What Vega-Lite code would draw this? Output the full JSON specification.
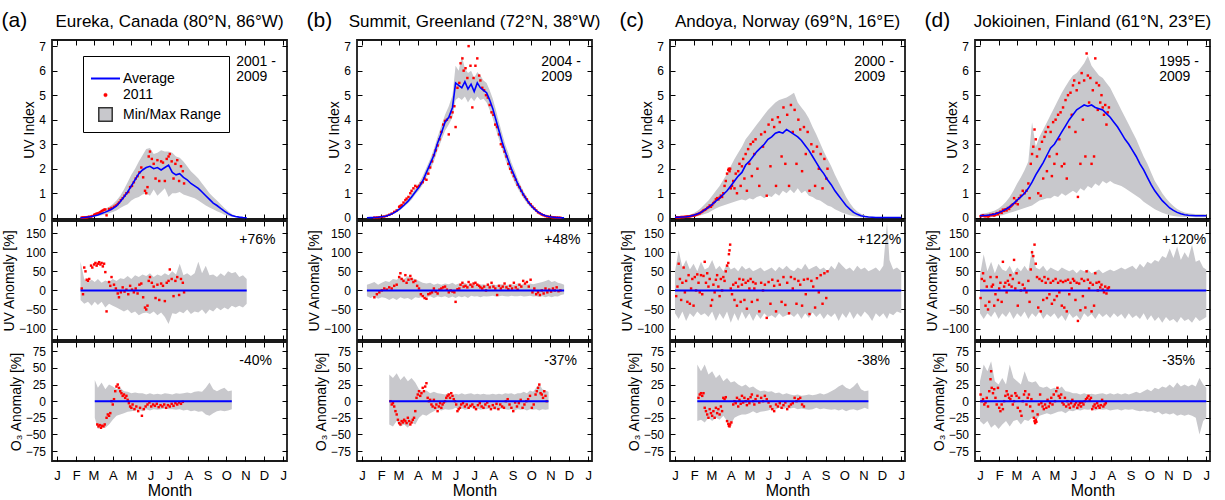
{
"$schema":"https://vega.github.io/schema/vega-lite/v6.json",
"background":"white",
"padding":{"left":1,"top":9,"right":5,"bottom":0},
"datasets":{
"ra":[
{"d":38,"ul":0,"um":0,"uh":0.02,"al":-25,"ah":75},
{"d":44,"ul":0,"um":0.01,"uh":0.04,"al":-35,"ah":30},
{"d":50,"ul":0.02,"um":0.03,"uh":0.06,"al":-30,"ah":20},
{"d":56,"ul":0.03,"um":0.05,"uh":0.1,"al":-40,"ah":28},
{"d":61,"ul":0.05,"um":0.08,"uh":0.13,"al":-30,"ah":22,"ol":-25,"oh":32},
{"d":66,"ul":0.07,"um":0.11,"uh":0.18,"al":-38,"ah":30,"ol":-42,"oh":20},
{"d":72,"ul":0.1,"um":0.17,"uh":0.27,"al":-30,"ah":20,"ol":-38,"oh":28},
{"d":78,"ul":0.14,"um":0.23,"uh":0.36,"al":-45,"ah":26,"ol":-40,"oh":18},
{"d":84,"ul":0.18,"um":0.3,"uh":0.45,"al":-35,"ah":22,"ol":-35,"oh":25},
{"d":90,"ul":0.24,"um":0.38,"uh":0.55,"al":-40,"ah":30,"ol":-28,"oh":22},
{"d":96,"ul":0.3,"um":0.48,"uh":0.7,"al":-45,"ah":25,"ol":-22,"oh":18},
{"d":102,"ul":0.4,"um":0.65,"uh":0.9,"al":-50,"ah":32,"ol":-20,"oh":20},
{"d":108,"ul":0.48,"um":0.85,"uh":1.15,"al":-55,"ah":30,"ol":-18,"oh":15},
{"d":114,"ul":0.55,"um":1.05,"uh":1.45,"al":-50,"ah":38,"ol":-16,"oh":14},
{"d":120,"ul":0.7,"um":1.3,"uh":1.75,"al":-60,"ah":30,"ol":-15,"oh":12},
{"d":126,"ul":0.8,"um":1.55,"uh":2.0,"al":-55,"ah":40,"ol":-14,"oh":13},
{"d":132,"ul":0.85,"um":1.8,"uh":2.3,"al":-65,"ah":35,"ol":-13,"oh":12},
{"d":138,"ul":0.95,"um":1.95,"uh":2.55,"al":-60,"ah":42,"ol":-15,"oh":12},
{"d":144,"ul":1.0,"um":2.05,"uh":2.8,"al":-58,"ah":38,"ol":-12,"oh":10},
{"d":150,"ul":0.9,"um":2.1,"uh":2.85,"al":-62,"ah":45,"ol":-14,"oh":12},
{"d":156,"ul":1.15,"um":2.0,"uh":2.6,"al":-55,"ah":35,"ol":-12,"oh":10},
{"d":162,"ul":0.9,"um":2.05,"uh":2.65,"al":-65,"ah":42,"ol":-13,"oh":11},
{"d":168,"ul":1.05,"um":1.95,"uh":2.75,"al":-58,"ah":38,"ol":-12,"oh":10},
{"d":174,"ul":1.2,"um":2.05,"uh":2.7,"al":-70,"ah":45,"ol":-11,"oh":12},
{"d":180,"ul":0.85,"um":2.15,"uh":2.7,"al":-88,"ah":40,"ol":-12,"oh":11},
{"d":186,"ul":1.0,"um":1.85,"uh":2.65,"al":-60,"ah":50,"ol":-12,"oh":10},
{"d":192,"ul":1.0,"um":1.75,"uh":2.5,"al":-62,"ah":42,"ol":-13,"oh":12},
{"d":198,"ul":1.05,"um":1.8,"uh":2.45,"al":-55,"ah":70,"ol":-12,"oh":11},
{"d":204,"ul":0.95,"um":1.65,"uh":2.3,"al":-60,"ah":40,"ol":-14,"oh":12},
{"d":210,"ul":0.9,"um":1.55,"uh":2.1,"al":-50,"ah":45,"ol":-13,"oh":13},
{"d":216,"ul":0.85,"um":1.4,"uh":1.9,"al":-62,"ah":38,"ol":-15,"oh":12},
{"d":222,"ul":0.8,"um":1.3,"uh":1.75,"al":-55,"ah":45,"ol":-14,"oh":14},
{"d":228,"ul":0.7,"um":1.2,"uh":1.6,"al":-58,"ah":75,"ol":-16,"oh":15},
{"d":234,"ul":0.6,"um":1.05,"uh":1.4,"al":-50,"ah":45,"ol":-15,"oh":14},
{"d":240,"ul":0.5,"um":0.9,"uh":1.2,"al":-62,"ah":65,"ol":-20,"oh":20},
{"d":246,"ul":0.42,"um":0.75,"uh":1.0,"al":-50,"ah":40,"ol":-22,"oh":28},
{"d":252,"ul":0.35,"um":0.6,"uh":0.85,"al":-55,"ah":42,"ol":-18,"oh":18},
{"d":258,"ul":0.27,"um":0.5,"uh":0.7,"al":-45,"ah":35,"ol":-15,"oh":15},
{"d":264,"ul":0.2,"um":0.38,"uh":0.55,"al":-52,"ah":45,"ol":-14,"oh":18},
{"d":270,"ul":0.12,"um":0.27,"uh":0.4,"al":-45,"ah":38,"ol":-15,"oh":20},
{"d":276,"ul":0.07,"um":0.17,"uh":0.27,"al":-50,"ah":50,"ol":-14,"oh":15},
{"d":282,"ul":0.04,"um":0.09,"uh":0.15,"al":-40,"ah":45,"ol":-12,"oh":16},
{"d":288,"ul":0.02,"um":0.05,"uh":0.08,"al":-45,"ah":48},
{"d":294,"ul":0.01,"um":0.025,"uh":0.04,"al":-40,"ah":35},
{"d":300,"ul":0,"um":0.01,"uh":0.02,"al":-45,"ah":40},
{"d":306,"ul":0,"um":0,"uh":0.01,"al":-35,"ah":30}
],
"pa":[
{"d":40,"u":0.01,"a":5},{"d":42,"u":0.01,"a":-10},{"d":44,"u":0.015,"a":60},{"d":46,"u":0.015,"a":50},{"d":48,"u":0.02,"a":28},{"d":50,"u":0.03,"a":25},{"d":52,"u":0.04,"a":30},{"d":55,"u":0.05,"a":65},{"d":57,"u":0.07,"a":60},{"d":60,"u":0.12,"a":68},{"d":62,"u":0.14,"a":72},{"d":64,"u":0.17,"a":65},{"d":66,"u":0.18,"a":70},{"d":68,"u":0.2,"a":74},{"d":70,"u":0.23,"a":68},{"d":72,"u":0.27,"a":72},{"d":74,"u":0.3,"a":63},{"d":76,"u":0.33,"a":70},{"d":78,"u":0.34,"a":48},{"d":80,"u":0.1,"a":-55},{"d":84,"u":0.36,"a":22},{"d":86,"u":0.35,"a":12},{"d":88,"u":0.4,"a":35},{"d":92,"u":0.45,"a":15},{"d":95,"u":0.5,"a":5},{"d":98,"u":0.56,"a":-8},{"d":100,"u":0.62,"a":-18},{"d":103,"u":0.72,"a":-5},{"d":106,"u":0.8,"a":8},{"d":109,"u":0.9,"a":-3},{"d":112,"u":1.0,"a":2},{"d":115,"u":1.05,"a":-10},{"d":118,"u":1.25,"a":12},{"d":121,"u":1.3,"a":2},{"d":124,"u":1.45,"a":-5},{"d":127,"u":1.6,"a":5},{"d":130,"u":1.7,"a":-8},{"d":133,"u":1.85,"a":15},{"d":136,"u":2.05,"a":18},{"d":139,"u":1.65,"a":-18},{"d":142,"u":1.1,"a":-45},{"d":144,"u":1.0,"a":-50},{"d":146,"u":1.25,"a":-40},{"d":148,"u":2.5,"a":25},{"d":150,"u":2.7,"a":35},{"d":153,"u":2.4,"a":20},{"d":156,"u":2.2,"a":10},{"d":159,"u":1.6,"a":-20},{"d":162,"u":2.35,"a":15},{"d":165,"u":1.5,"a":-25},{"d":168,"u":2.3,"a":18},{"d":171,"u":2.25,"a":12},{"d":174,"u":1.5,"a":-28},{"d":177,"u":2.4,"a":20},{"d":180,"u":2.5,"a":25},{"d":182,"u":2.6,"a":55},{"d":185,"u":2.3,"a":30},{"d":188,"u":1.6,"a":-15},{"d":191,"u":2.2,"a":25},{"d":194,"u":2.35,"a":35},{"d":197,"u":1.5,"a":-12},{"d":200,"u":2.1,"a":30},{"d":203,"u":1.9,"a":20},{"d":205,"u":1.4,"a":-5}
],
"oa":[
{"d":65,"o":-35},{"d":67,"o":-38},{"d":69,"o":-36},{"d":71,"o":-40},{"d":73,"o":-37},{"d":75,"o":-38},{"d":77,"o":-35},{"d":80,"o":-25},{"d":82,"o":-20},{"d":84,"o":-22},{"d":86,"o":-18},{"d":88,"o":0},{"d":90,"o":-5},{"d":92,"o":3},{"d":94,"o":15},{"d":96,"o":22},{"d":98,"o":25},{"d":100,"o":20},{"d":102,"o":15},{"d":104,"o":12},{"d":106,"o":8},{"d":108,"o":10},{"d":110,"o":5},{"d":112,"o":8},{"d":114,"o":2},{"d":116,"o":-3},{"d":118,"o":-8},{"d":120,"o":-10},{"d":122,"o":-5},{"d":125,"o":-12},{"d":128,"o":-8},{"d":131,"o":-15},{"d":134,"o":-10},{"d":137,"o":-22},{"d":140,"o":-12},{"d":143,"o":-8},{"d":146,"o":-5},{"d":149,"o":-2},{"d":152,"o":-8},{"d":155,"o":-5},{"d":158,"o":-7},{"d":161,"o":-4},{"d":164,"o":-9},{"d":167,"o":-6},{"d":170,"o":-8},{"d":173,"o":-5},{"d":176,"o":-10},{"d":179,"o":-6},{"d":182,"o":-8},{"d":185,"o":-4},{"d":188,"o":-7},{"d":191,"o":-3},{"d":194,"o":-5},{"d":197,"o":-2},{"d":200,"o":-4},{"d":203,"o":-1}
],
"rb":[
{"d":8,"ul":0,"um":0,"uh":0.01,"al":-15,"ah":15},
{"d":14,"ul":0,"um":0.005,"uh":0.02,"al":-20,"ah":18},
{"d":20,"ul":0.005,"um":0.01,"uh":0.03,"al":-15,"ah":22},
{"d":26,"ul":0.01,"um":0.02,"uh":0.05,"al":-22,"ah":15},
{"d":32,"ul":0.02,"um":0.04,"uh":0.07,"al":-18,"ah":20},
{"d":38,"ul":0.04,"um":0.06,"uh":0.1,"al":-20,"ah":25},
{"d":44,"ul":0.08,"um":0.11,"uh":0.16,"al":-25,"ah":22,"ol":-35,"oh":40},
{"d":50,"ul":0.14,"um":0.18,"uh":0.24,"al":-20,"ah":30,"ol":-38,"oh":35},
{"d":56,"ul":0.22,"um":0.27,"uh":0.34,"al":-25,"ah":28,"ol":-30,"oh":42},
{"d":62,"ul":0.32,"um":0.38,"uh":0.46,"al":-18,"ah":35,"ol":-38,"oh":32},
{"d":68,"ul":0.45,"um":0.52,"uh":0.62,"al":-22,"ah":30,"ol":-35,"oh":38},
{"d":74,"ul":0.58,"um":0.67,"uh":0.78,"al":-20,"ah":38,"ol":-40,"oh":30},
{"d":80,"ul":0.74,"um":0.85,"uh":0.98,"al":-25,"ah":32,"ol":-32,"oh":35},
{"d":86,"ul":0.95,"um":1.05,"uh":1.2,"al":-18,"ah":30,"ol":-35,"oh":28},
{"d":92,"ul":1.12,"um":1.25,"uh":1.42,"al":-20,"ah":25,"ol":-25,"oh":18},
{"d":98,"ul":1.35,"um":1.5,"uh":1.7,"al":-15,"ah":20,"ol":-20,"oh":15},
{"d":104,"ul":1.65,"um":1.85,"uh":2.05,"al":-18,"ah":18,"ol":-22,"oh":16},
{"d":110,"ul":1.95,"um":2.2,"uh":2.4,"al":-15,"ah":20,"ol":-18,"oh":12},
{"d":116,"ul":2.3,"um":2.55,"uh":2.8,"al":-20,"ah":15,"ol":-15,"oh":14},
{"d":122,"ul":2.75,"um":3.05,"uh":3.3,"al":-15,"ah":18,"ol":-12,"oh":12},
{"d":128,"ul":3.15,"um":3.45,"uh":3.75,"al":-18,"ah":15,"ol":-14,"oh":11},
{"d":134,"ul":3.55,"um":3.9,"uh":4.2,"al":-15,"ah":18,"ol":-12,"oh":10},
{"d":140,"ul":3.8,"um":4.1,"uh":4.55,"al":-20,"ah":16,"ol":-13,"oh":12},
{"d":146,"ul":4.1,"um":4.5,"uh":5.0,"al":-16,"ah":20,"ol":-12,"oh":9},
{"d":151,"ul":4.8,"um":5.5,"uh":6.2,"al":-20,"ah":15,"ol":-10,"oh":11},
{"d":156,"ul":4.9,"um":5.4,"uh":6.0,"al":-15,"ah":18,"ol":-12,"oh":10},
{"d":161,"ul":4.8,"um":5.3,"uh":6.6,"al":-18,"ah":16,"ol":-11,"oh":12},
{"d":166,"ul":4.95,"um":5.55,"uh":6.1,"al":-15,"ah":20,"ol":-13,"oh":10},
{"d":171,"ul":4.7,"um":5.25,"uh":5.9,"al":-20,"ah":15,"ol":-12,"oh":11},
{"d":176,"ul":4.9,"um":5.45,"uh":6.0,"al":-14,"ah":18,"ol":-10,"oh":12},
{"d":181,"ul":4.75,"um":5.15,"uh":5.7,"al":-16,"ah":15,"ol":-12,"oh":10},
{"d":186,"ul":4.95,"um":5.5,"uh":5.95,"al":-15,"ah":17,"ol":-11,"oh":11},
{"d":191,"ul":4.8,"um":5.3,"uh":5.8,"al":-18,"ah":15,"ol":-13,"oh":10},
{"d":196,"ul":4.85,"um":5.2,"uh":5.6,"al":-15,"ah":16,"ol":-12,"oh":11},
{"d":201,"ul":4.7,"um":5.1,"uh":5.5,"al":-16,"ah":14,"ol":-12,"oh":10},
{"d":206,"ul":4.4,"um":4.8,"uh":5.2,"al":-15,"ah":15,"ol":-11,"oh":10},
{"d":211,"ul":4.05,"um":4.45,"uh":4.85,"al":-14,"ah":16,"ol":-12,"oh":11},
{"d":216,"ul":3.6,"um":4.0,"uh":4.4,"al":-16,"ah":14,"ol":-13,"oh":10},
{"d":221,"ul":3.2,"um":3.55,"uh":3.9,"al":-15,"ah":15,"ol":-12,"oh":11},
{"d":226,"ul":2.8,"um":3.1,"uh":3.45,"al":-14,"ah":16,"ol":-11,"oh":10},
{"d":231,"ul":2.4,"um":2.7,"uh":3.0,"al":-15,"ah":14,"ol":-12,"oh":12},
{"d":236,"ul":2.05,"um":2.35,"uh":2.65,"al":-16,"ah":15,"ol":-13,"oh":11},
{"d":241,"ul":1.75,"um":2.0,"uh":2.25,"al":-14,"ah":16,"ol":-12,"oh":12},
{"d":246,"ul":1.45,"um":1.7,"uh":1.95,"al":-15,"ah":15,"ol":-14,"oh":10},
{"d":251,"ul":1.2,"um":1.4,"uh":1.6,"al":-15,"ah":18,"ol":-12,"oh":12},
{"d":256,"ul":0.98,"um":1.15,"uh":1.32,"al":-14,"ah":15,"ol":-13,"oh":12},
{"d":261,"ul":0.78,"um":0.92,"uh":1.06,"al":-16,"ah":17,"ol":-12,"oh":14},
{"d":266,"ul":0.6,"um":0.72,"uh":0.84,"al":-15,"ah":15,"ol":-14,"oh":12},
{"d":271,"ul":0.45,"um":0.55,"uh":0.65,"al":-14,"ah":18,"ol":-12,"oh":16},
{"d":276,"ul":0.33,"um":0.41,"uh":0.5,"al":-16,"ah":16,"ol":-13,"oh":14},
{"d":281,"ul":0.23,"um":0.29,"uh":0.36,"al":-15,"ah":18,"ol":-12,"oh":20},
{"d":286,"ul":0.15,"um":0.2,"uh":0.25,"al":-17,"ah":20,"ol":-14,"oh":26},
{"d":291,"ul":0.09,"um":0.13,"uh":0.17,"al":-15,"ah":22,"ol":-12,"oh":18},
{"d":296,"ul":0.05,"um":0.08,"uh":0.11,"al":-18,"ah":25,"ol":-13,"oh":16},
{"d":301,"ul":0.03,"um":0.05,"uh":0.07,"al":-15,"ah":28,"ol":-12,"oh":14},
{"d":306,"ul":0.015,"um":0.03,"uh":0.04,"al":-18,"ah":22},
{"d":311,"ul":0.005,"um":0.015,"uh":0.025,"al":-15,"ah":25},
{"d":316,"ul":0.002,"um":0.008,"uh":0.015,"al":-16,"ah":20},
{"d":321,"ul":0,"um":0.003,"uh":0.008,"al":-12,"ah":18},
{"d":326,"ul":0,"um":0,"uh":0.003,"al":-10,"ah":15}
],
"pb":[
{"d":20,"u":0.01,"a":-18},{"d":24,"u":0.015,"a":-10},{"d":28,"u":0.02,"a":-5},{"d":32,"u":0.04,"a":0},{"d":36,"u":0.05,"a":5},{"d":40,"u":0.08,"a":2},{"d":44,"u":0.12,"a":8},{"d":48,"u":0.17,"a":5},{"d":52,"u":0.24,"a":12},{"d":56,"u":0.3,"a":15},{"d":60,"u":0.45,"a":35},{"d":62,"u":0.48,"a":45},{"d":64,"u":0.52,"a":30},{"d":67,"u":0.62,"a":25},{"d":70,"u":0.72,"a":40},{"d":72,"u":0.78,"a":20},{"d":75,"u":0.85,"a":28},{"d":78,"u":1.0,"a":38},{"d":80,"u":1.1,"a":30},{"d":83,"u":1.2,"a":22},{"d":86,"u":1.3,"a":25},{"d":89,"u":1.25,"a":12},{"d":92,"u":1.3,"a":5},{"d":95,"u":1.4,"a":-10},{"d":98,"u":1.45,"a":-15},{"d":101,"u":1.6,"a":-20},{"d":104,"u":1.55,"a":-22},{"d":107,"u":1.8,"a":-10},{"d":110,"u":2.05,"a":-8},{"d":113,"u":2.3,"a":-5},{"d":116,"u":2.55,"a":5},{"d":119,"u":2.75,"a":-3},{"d":122,"u":2.95,"a":-8},{"d":125,"u":3.2,"a":2},{"d":128,"u":3.5,"a":5},{"d":131,"u":3.8,"a":8},{"d":134,"u":3.95,"a":10},{"d":137,"u":4.0,"a":2},{"d":140,"u":3.4,"a":-5},{"d":143,"u":4.1,"a":0},{"d":146,"u":4.3,"a":-3},{"d":149,"u":4.55,"a":-5},{"d":151,"u":3.7,"a":-30},{"d":154,"u":5.3,"a":3},{"d":157,"u":5.5,"a":5},{"d":159,"u":6.3,"a":15},{"d":162,"u":6.5,"a":20},{"d":164,"u":6.0,"a":10},{"d":167,"u":6.1,"a":12},{"d":170,"u":5.7,"a":8},{"d":172,"u":7.0,"a":22},{"d":175,"u":6.2,"a":15},{"d":178,"u":4.5,"a":10},{"d":180,"u":5.7,"a":18},{"d":183,"u":6.2,"a":20},{"d":186,"u":6.5,"a":15},{"d":189,"u":5.8,"a":12},{"d":191,"u":5.6,"a":8},{"d":194,"u":5.3,"a":5},{"d":197,"u":5.2,"a":10},{"d":200,"u":5.0,"a":0},{"d":203,"u":4.9,"a":15},{"d":206,"u":4.6,"a":8},{"d":209,"u":4.3,"a":20},{"d":212,"u":4.2,"a":10},{"d":215,"u":3.8,"a":5},{"d":218,"u":3.7,"a":-12},{"d":221,"u":3.4,"a":12},{"d":224,"u":3.0,"a":5},{"d":227,"u":2.9,"a":10},{"d":230,"u":2.7,"a":18},{"d":233,"u":2.5,"a":8},{"d":236,"u":2.2,"a":3},{"d":239,"u":2.0,"a":12},{"d":242,"u":1.85,"a":5},{"d":245,"u":1.7,"a":20},{"d":248,"u":1.55,"a":8},{"d":251,"u":1.35,"a":2},{"d":254,"u":1.25,"a":15},{"d":257,"u":1.1,"a":10},{"d":260,"u":0.95,"a":25},{"d":263,"u":0.85,"a":18},{"d":266,"u":0.75,"a":22},{"d":269,"u":0.62,"a":10},{"d":272,"u":0.55,"a":28},{"d":275,"u":0.45,"a":-5},{"d":278,"u":0.38,"a":5},{"d":281,"u":0.3,"a":-10},{"d":284,"u":0.22,"a":-5},{"d":287,"u":0.18,"a":-12},{"d":290,"u":0.13,"a":0},{"d":293,"u":0.1,"a":-8},{"d":296,"u":0.07,"a":5},{"d":299,"u":0.05,"a":-5},{"d":302,"u":0.04,"a":2},{"d":305,"u":0.03,"a":-3},{"d":308,"u":0.02,"a":5},{"d":311,"u":0.015,"a":0},{"d":314,"u":0.01,"a":8},{"d":317,"u":0.005,"a":-2},{"d":320,"u":0.003,"a":0}
],
"ob":[
{"d":46,"o":0},{"d":48,"o":-5},{"d":50,"o":-3},{"d":52,"o":-8},{"d":54,"o":-15},{"d":56,"o":-20},{"d":58,"o":-28},{"d":60,"o":-33},{"d":62,"o":-35},{"d":64,"o":-30},{"d":66,"o":-32},{"d":68,"o":-28},{"d":70,"o":-30},{"d":72,"o":-33},{"d":74,"o":-25},{"d":76,"o":-30},{"d":78,"o":-35},{"d":80,"o":-32},{"d":82,"o":-28},{"d":84,"o":-25},{"d":86,"o":-15},{"d":88,"o":5},{"d":90,"o":10},{"d":92,"o":15},{"d":94,"o":8},{"d":96,"o":12},{"d":98,"o":20},{"d":100,"o":15},{"d":102,"o":22},{"d":104,"o":27},{"d":106,"o":5},{"d":108,"o":0},{"d":110,"o":2},{"d":112,"o":-5},{"d":114,"o":-8},{"d":116,"o":2},{"d":118,"o":-10},{"d":120,"o":-5},{"d":122,"o":-15},{"d":124,"o":-8},{"d":126,"o":-3},{"d":128,"o":-10},{"d":130,"o":-5},{"d":132,"o":-2},{"d":134,"o":0},{"d":136,"o":5},{"d":138,"o":8},{"d":140,"o":10},{"d":142,"o":5},{"d":144,"o":12},{"d":146,"o":8},{"d":148,"o":3},{"d":150,"o":0},{"d":152,"o":-5},{"d":154,"o":-15},{"d":156,"o":-12},{"d":158,"o":-10},{"d":160,"o":-5},{"d":163,"o":-3},{"d":166,"o":-8},{"d":169,"o":-5},{"d":172,"o":-10},{"d":175,"o":-7},{"d":178,"o":-5},{"d":181,"o":-9},{"d":184,"o":-12},{"d":187,"o":-6},{"d":190,"o":-3},{"d":193,"o":-8},{"d":196,"o":-10},{"d":199,"o":-5},{"d":202,"o":-2},{"d":205,"o":-8},{"d":208,"o":-12},{"d":211,"o":-6},{"d":214,"o":-10},{"d":217,"o":-4},{"d":220,"o":-12},{"d":223,"o":-5},{"d":226,"o":-8},{"d":229,"o":-10},{"d":232,"o":0},{"d":235,"o":3},{"d":238,"o":-5},{"d":241,"o":-10},{"d":244,"o":-15},{"d":247,"o":-2},{"d":250,"o":-8},{"d":253,"o":-3},{"d":256,"o":2},{"d":259,"o":-10},{"d":262,"o":-5},{"d":265,"o":0},{"d":268,"o":3},{"d":271,"o":8},{"d":274,"o":-10},{"d":277,"o":-5},{"d":280,"o":10},{"d":282,"o":15},{"d":284,"o":20},{"d":286,"o":25},{"d":288,"o":12},{"d":290,"o":10},{"d":292,"o":5},{"d":294,"o":15},{"d":296,"o":8},{"d":298,"o":0}
],
"rc":[
{"d":0,"ul":0,"um":0.02,"uh":0.04,"al":-60,"ah":50},
{"d":6,"ul":0,"um":0.02,"uh":0.05,"al":-75,"ah":105},
{"d":12,"ul":0.01,"um":0.03,"uh":0.06,"al":-55,"ah":60},
{"d":18,"ul":0.01,"um":0.04,"uh":0.08,"al":-80,"ah":80},
{"d":24,"ul":0.02,"um":0.06,"uh":0.12,"al":-60,"ah":55},
{"d":30,"ul":0.04,"um":0.1,"uh":0.18,"al":-70,"ah":70},
{"d":36,"ul":0.06,"um":0.15,"uh":0.28,"al":-55,"ah":50,"ol":-30,"oh":55},
{"d":42,"ul":0.1,"um":0.22,"uh":0.4,"al":-65,"ah":75,"ol":-28,"oh":45},
{"d":48,"ul":0.15,"um":0.32,"uh":0.55,"al":-60,"ah":55,"ol":-32,"oh":55},
{"d":54,"ul":0.2,"um":0.42,"uh":0.7,"al":-70,"ah":60,"ol":-25,"oh":40},
{"d":60,"ul":0.3,"um":0.55,"uh":0.9,"al":-55,"ah":80,"ol":-30,"oh":45},
{"d":66,"ul":0.38,"um":0.68,"uh":1.1,"al":-80,"ah":55,"ol":-25,"oh":35},
{"d":72,"ul":0.45,"um":0.8,"uh":1.3,"al":-60,"ah":65,"ol":-28,"oh":40},
{"d":78,"ul":0.5,"um":0.95,"uh":1.55,"al":-75,"ah":50,"ol":-22,"oh":30},
{"d":84,"ul":0.55,"um":1.1,"uh":1.8,"al":-55,"ah":70,"ol":-30,"oh":35},
{"d":90,"ul":0.6,"um":1.3,"uh":2.1,"al":-85,"ah":55,"ol":-35,"oh":28},
{"d":96,"ul":0.65,"um":1.5,"uh":2.4,"al":-60,"ah":60,"ol":-25,"oh":30},
{"d":102,"ul":0.7,"um":1.7,"uh":2.65,"al":-80,"ah":50,"ol":-22,"oh":25},
{"d":108,"ul":0.75,"um":1.85,"uh":2.9,"al":-55,"ah":65,"ol":-20,"oh":22},
{"d":114,"ul":0.7,"um":2.15,"uh":3.2,"al":-75,"ah":55,"ol":-20,"oh":25},
{"d":120,"ul":0.8,"um":2.3,"uh":3.4,"al":-60,"ah":60,"ol":-18,"oh":20},
{"d":126,"ul":0.75,"um":2.5,"uh":3.6,"al":-80,"ah":50,"ol":-15,"oh":22},
{"d":132,"ul":0.85,"um":2.7,"uh":3.8,"al":-62,"ah":55,"ol":-18,"oh":18},
{"d":138,"ul":0.9,"um":2.85,"uh":4.0,"al":-75,"ah":60,"ol":-16,"oh":15},
{"d":144,"ul":0.8,"um":3.0,"uh":4.2,"al":-60,"ah":50,"ol":-15,"oh":16},
{"d":150,"ul":0.9,"um":3.2,"uh":4.4,"al":-70,"ah":55,"ol":-14,"oh":14},
{"d":156,"ul":0.85,"um":3.3,"uh":4.55,"al":-65,"ah":60,"ol":-12,"oh":15},
{"d":162,"ul":1.0,"um":3.45,"uh":4.7,"al":-72,"ah":50,"ol":-13,"oh":12},
{"d":168,"ul":0.9,"um":3.5,"uh":4.8,"al":-60,"ah":62,"ol":-10,"oh":13},
{"d":174,"ul":1.1,"um":3.45,"uh":4.85,"al":-70,"ah":55,"ol":-12,"oh":10},
{"d":180,"ul":1.0,"um":3.6,"uh":4.9,"al":-65,"ah":65,"ol":-10,"oh":12},
{"d":186,"ul":1.15,"um":3.5,"uh":5.0,"al":-62,"ah":55,"ol":-11,"oh":10},
{"d":192,"ul":1.0,"um":3.4,"uh":5.1,"al":-70,"ah":50,"ol":-10,"oh":9},
{"d":198,"ul":1.2,"um":3.3,"uh":4.7,"al":-60,"ah":60,"ol":-12,"oh":10},
{"d":204,"ul":1.0,"um":3.15,"uh":4.5,"al":-75,"ah":55,"ol":-11,"oh":8},
{"d":210,"ul":1.1,"um":2.95,"uh":4.3,"al":-60,"ah":70,"ol":-12,"oh":9},
{"d":216,"ul":0.9,"um":2.75,"uh":4.05,"al":-72,"ah":55,"ol":-13,"oh":10},
{"d":222,"ul":0.85,"um":2.5,"uh":3.7,"al":-58,"ah":60,"ol":-12,"oh":9},
{"d":228,"ul":0.75,"um":2.25,"uh":3.4,"al":-70,"ah":65,"ol":-10,"oh":10},
{"d":234,"ul":0.7,"um":2.0,"uh":3.05,"al":-60,"ah":55,"ol":-12,"oh":12},
{"d":240,"ul":0.6,"um":1.8,"uh":2.7,"al":-75,"ah":60,"ol":-11,"oh":10},
{"d":246,"ul":0.5,"um":1.55,"uh":2.4,"al":-62,"ah":50,"ol":-12,"oh":12},
{"d":252,"ul":0.45,"um":1.35,"uh":2.1,"al":-70,"ah":65,"ol":-13,"oh":15},
{"d":258,"ul":0.35,"um":1.1,"uh":1.75,"al":-60,"ah":55,"ol":-12,"oh":18},
{"d":264,"ul":0.28,"um":0.9,"uh":1.45,"al":-80,"ah":75,"ol":-14,"oh":22},
{"d":270,"ul":0.2,"um":0.7,"uh":1.15,"al":-60,"ah":65,"ol":-12,"oh":25},
{"d":276,"ul":0.15,"um":0.5,"uh":0.85,"al":-72,"ah":55,"ol":-15,"oh":20},
{"d":282,"ul":0.1,"um":0.35,"uh":0.6,"al":-55,"ah":60,"ol":-13,"oh":18},
{"d":288,"ul":0.06,"um":0.22,"uh":0.4,"al":-75,"ah":50,"ol":-12,"oh":22},
{"d":294,"ul":0.04,"um":0.14,"uh":0.26,"al":-60,"ah":65,"ol":-14,"oh":28},
{"d":300,"ul":0.02,"um":0.08,"uh":0.16,"al":-70,"ah":55,"ol":-12,"oh":18},
{"d":306,"ul":0.01,"um":0.05,"uh":0.1,"al":-55,"ah":60,"ol":-10,"oh":15},
{"d":312,"ul":0,"um":0.03,"uh":0.06,"al":-65,"ah":50,"ol":-12,"oh":16},
{"d":318,"ul":0,"um":0.02,"uh":0.04,"al":-80,"ah":55},
{"d":324,"ul":0,"um":0.01,"uh":0.03,"al":-60,"ah":60},
{"d":330,"ul":0,"um":0.01,"uh":0.02,"al":-70,"ah":50},
{"d":336,"ul":0,"um":0.01,"uh":0.02,"al":-60,"ah":65},
{"d":342,"ul":0,"um":0.01,"uh":0.02,"al":-75,"ah":180},
{"d":346,"ul":0,"um":0.01,"uh":0.02,"al":-60,"ah":80},
{"d":352,"ul":0,"um":0.01,"uh":0.02,"al":-65,"ah":55},
{"d":358,"ul":0,"um":0.01,"uh":0.02,"al":-55,"ah":60},
{"d":365,"ul":0,"um":0.01,"uh":0.02,"al":-60,"ah":50}
],
"pc":[
{"d":2,"u":0.02,"a":-15},{"d":4,"u":0.02,"a":10},{"d":6,"u":0.02,"a":70},{"d":8,"u":0.02,"a":30},{"d":10,"u":0.03,"a":-25},{"d":12,"u":0.03,"a":20},{"d":14,"u":0.03,"a":60},{"d":16,"u":0.04,"a":-5},{"d":18,"u":0.04,"a":25},{"d":20,"u":0.05,"a":-30},{"d":22,"u":0.05,"a":40},{"d":24,"u":0.06,"a":-35},{"d":26,"u":0.07,"a":5},{"d":28,"u":0.08,"a":30},{"d":30,"u":0.09,"a":-40},{"d":32,"u":0.1,"a":35},{"d":34,"u":0.12,"a":0},{"d":36,"u":0.14,"a":42},{"d":38,"u":0.16,"a":20},{"d":40,"u":0.18,"a":-5},{"d":42,"u":0.22,"a":40},{"d":44,"u":0.25,"a":-10},{"d":46,"u":0.3,"a":38},{"d":48,"u":0.32,"a":75},{"d":50,"u":0.35,"a":20},{"d":52,"u":0.4,"a":45},{"d":54,"u":0.43,"a":10},{"d":56,"u":0.5,"a":30},{"d":58,"u":0.45,"a":-40},{"d":60,"u":0.52,"a":-25},{"d":62,"u":0.6,"a":15},{"d":64,"u":0.65,"a":-5},{"d":66,"u":0.75,"a":28},{"d":68,"u":0.8,"a":40},{"d":70,"u":0.75,"a":10},{"d":72,"u":0.82,"a":-15},{"d":74,"u":0.9,"a":30},{"d":76,"u":0.85,"a":0},{"d":78,"u":1.0,"a":35},{"d":80,"u":1.3,"a":25},{"d":82,"u":1.5,"a":50},{"d":84,"u":1.8,"a":65},{"d":86,"u":1.95,"a":72},{"d":87,"u":2.0,"a":95},{"d":88,"u":1.9,"a":105},{"d":89,"u":2.0,"a":120},{"d":90,"u":1.2,"a":5},{"d":92,"u":1.3,"a":-10},{"d":94,"u":1.5,"a":15},{"d":96,"u":1.2,"a":-25},{"d":98,"u":1.8,"a":20},{"d":100,"u":1.0,"a":-40},{"d":102,"u":1.9,"a":10},{"d":104,"u":2.2,"a":30},{"d":106,"u":1.3,"a":-30},{"d":108,"u":2.1,"a":15},{"d":110,"u":2.4,"a":28},{"d":112,"u":1.6,"a":-25},{"d":114,"u":2.6,"a":20},{"d":116,"u":1.1,"a":-48},{"d":118,"u":2.8,"a":25},{"d":120,"u":2.2,"a":5},{"d":122,"u":3.0,"a":30},{"d":124,"u":1.7,"a":-30},{"d":126,"u":3.1,"a":22},{"d":128,"u":2.6,"a":5},{"d":130,"u":3.2,"a":18},{"d":133,"u":2.0,"a":-25},{"d":136,"u":1.3,"a":-55},{"d":139,"u":3.4,"a":20},{"d":142,"u":2.9,"a":0},{"d":145,"u":3.5,"a":15},{"d":148,"u":0.9,"a":-72},{"d":151,"u":3.8,"a":22},{"d":154,"u":2.1,"a":-35},{"d":157,"u":4.0,"a":28},{"d":160,"u":3.7,"a":12},{"d":163,"u":1.3,"a":-55},{"d":166,"u":4.1,"a":25},{"d":169,"u":3.9,"a":15},{"d":172,"u":2.5,"a":-30},{"d":175,"u":4.5,"a":35},{"d":178,"u":2.2,"a":-38},{"d":181,"u":4.2,"a":20},{"d":184,"u":1.3,"a":-60},{"d":187,"u":4.6,"a":35},{"d":190,"u":3.5,"a":5},{"d":193,"u":4.4,"a":30},{"d":196,"u":2.2,"a":-35},{"d":199,"u":4.0,"a":25},{"d":202,"u":3.6,"a":15},{"d":205,"u":1.9,"a":-40},{"d":208,"u":3.7,"a":28},{"d":211,"u":2.6,"a":-10},{"d":214,"u":3.5,"a":30},{"d":217,"u":1.1,"a":-62},{"d":220,"u":3.0,"a":25},{"d":223,"u":2.7,"a":10},{"d":226,"u":1.3,"a":-45},{"d":229,"u":2.9,"a":32},{"d":232,"u":2.0,"a":-5},{"d":235,"u":2.6,"a":40},{"d":238,"u":1.2,"a":-35},{"d":241,"u":2.4,"a":45},{"d":244,"u":1.6,"a":-20},{"d":246,"u":2.0,"a":50}
],
"oc":[
{"d":38,"o":5},{"d":40,"o":10},{"d":42,"o":12},{"d":44,"o":8},{"d":46,"o":12},{"d":48,"o":-10},{"d":50,"o":-15},{"d":52,"o":-20},{"d":54,"o":-25},{"d":56,"o":-12},{"d":58,"o":-18},{"d":60,"o":-22},{"d":62,"o":-15},{"d":64,"o":-25},{"d":66,"o":-10},{"d":68,"o":-18},{"d":70,"o":-12},{"d":72,"o":-20},{"d":74,"o":-8},{"d":76,"o":-15},{"d":78,"o":5},{"d":80,"o":3},{"d":82,"o":6},{"d":84,"o":-30},{"d":86,"o":-34},{"d":87,"o":-37},{"d":88,"o":-38},{"d":89,"o":-35},{"d":91,"o":-32},{"d":94,"o":-5},{"d":96,"o":0},{"d":98,"o":-3},{"d":100,"o":5},{"d":102,"o":-8},{"d":104,"o":2},{"d":106,"o":-4},{"d":108,"o":8},{"d":110,"o":-2},{"d":112,"o":5},{"d":114,"o":0},{"d":116,"o":-6},{"d":118,"o":3},{"d":120,"o":-3},{"d":122,"o":6},{"d":124,"o":10},{"d":126,"o":0},{"d":128,"o":-5},{"d":130,"o":3},{"d":133,"o":8},{"d":136,"o":-2},{"d":139,"o":5},{"d":142,"o":0},{"d":145,"o":8},{"d":148,"o":3},{"d":151,"o":-2},{"d":154,"o":-8},{"d":157,"o":-12},{"d":160,"o":-15},{"d":163,"o":-5},{"d":166,"o":-8},{"d":169,"o":-3},{"d":172,"o":-10},{"d":175,"o":-6},{"d":178,"o":-2},{"d":181,"o":-12},{"d":184,"o":-8},{"d":187,"o":-5},{"d":190,"o":-3},{"d":193,"o":5},{"d":196,"o":0},{"d":199,"o":3},{"d":202,"o":5},{"d":205,"o":-5},{"d":208,"o":-8}
],
"rd":[
{"d":0,"ul":0.02,"um":0.08,"uh":0.15,"al":-60,"ah":40,"ol":-30,"oh":30},
{"d":6,"ul":0.03,"um":0.09,"uh":0.17,"al":-75,"ah":95,"ol":-35,"oh":55},
{"d":12,"ul":0.03,"um":0.1,"uh":0.2,"al":-60,"ah":50,"ol":-30,"oh":45},
{"d":18,"ul":0.04,"um":0.12,"uh":0.25,"al":-70,"ah":75,"ol":-40,"oh":60},
{"d":24,"ul":0.05,"um":0.15,"uh":0.3,"al":-55,"ah":45,"ol":-35,"oh":30},
{"d":30,"ul":0.08,"um":0.2,"uh":0.38,"al":-75,"ah":70,"ol":-42,"oh":25},
{"d":36,"ul":0.1,"um":0.27,"uh":0.5,"al":-60,"ah":55,"ol":-35,"oh":35},
{"d":42,"ul":0.15,"um":0.35,"uh":0.65,"al":-70,"ah":50,"ol":-30,"oh":25},
{"d":48,"ul":0.2,"um":0.45,"uh":0.85,"al":-55,"ah":65,"ol":-38,"oh":55},
{"d":54,"ul":0.25,"um":0.58,"uh":1.1,"al":-75,"ah":45,"ol":-30,"oh":35},
{"d":60,"ul":0.3,"um":0.72,"uh":1.4,"al":-60,"ah":60,"ol":-28,"oh":30},
{"d":66,"ul":0.35,"um":0.85,"uh":1.65,"al":-70,"ah":50,"ol":-35,"oh":25},
{"d":72,"ul":0.4,"um":1.0,"uh":1.95,"al":-55,"ah":65,"ol":-28,"oh":45},
{"d":78,"ul":0.45,"um":1.2,"uh":2.3,"al":-75,"ah":50,"ol":-30,"oh":30},
{"d":84,"ul":0.5,"um":1.45,"uh":3.9,"al":-60,"ah":110,"ol":-25,"oh":28},
{"d":90,"ul":0.6,"um":1.75,"uh":2.9,"al":-70,"ah":60,"ol":-30,"oh":30},
{"d":96,"ul":0.7,"um":2.0,"uh":3.3,"al":-55,"ah":55,"ol":-22,"oh":22},
{"d":102,"ul":0.75,"um":2.25,"uh":3.6,"al":-75,"ah":65,"ol":-20,"oh":20},
{"d":108,"ul":0.8,"um":2.55,"uh":3.9,"al":-62,"ah":50,"ol":-18,"oh":22},
{"d":114,"ul":0.8,"um":2.85,"uh":4.2,"al":-70,"ah":60,"ol":-20,"oh":18},
{"d":120,"ul":0.9,"um":3.0,"uh":4.5,"al":-60,"ah":55,"ol":-18,"oh":20},
{"d":126,"ul":0.85,"um":3.25,"uh":4.8,"al":-75,"ah":50,"ol":-16,"oh":18},
{"d":132,"ul":1.0,"um":3.5,"uh":5.1,"al":-65,"ah":60,"ol":-15,"oh":22},
{"d":138,"ul":0.9,"um":3.75,"uh":5.35,"al":-80,"ah":55,"ol":-18,"oh":15},
{"d":144,"ul":1.0,"um":4.0,"uh":5.6,"al":-60,"ah":50,"ol":-14,"oh":14},
{"d":150,"ul":1.1,"um":4.2,"uh":5.8,"al":-72,"ah":55,"ol":-15,"oh":12},
{"d":156,"ul":1.0,"um":4.4,"uh":5.9,"al":-65,"ah":45,"ol":-13,"oh":12},
{"d":162,"ul":1.2,"um":4.5,"uh":6.1,"al":-78,"ah":55,"ol":-14,"oh":10},
{"d":168,"ul":1.1,"um":4.6,"uh":6.3,"al":-60,"ah":50,"ol":-12,"oh":12},
{"d":174,"ul":1.3,"um":4.55,"uh":6.6,"al":-70,"ah":55,"ol":-13,"oh":10},
{"d":180,"ul":1.2,"um":4.6,"uh":6.2,"al":-62,"ah":45,"ol":-12,"oh":11},
{"d":186,"ul":1.4,"um":4.5,"uh":6.0,"al":-75,"ah":50,"ol":-14,"oh":10},
{"d":192,"ul":1.3,"um":4.45,"uh":5.8,"al":-60,"ah":55,"ol":-12,"oh":11},
{"d":198,"ul":1.5,"um":4.4,"uh":5.7,"al":-70,"ah":45,"ol":-13,"oh":12},
{"d":204,"ul":1.4,"um":4.25,"uh":5.5,"al":-62,"ah":50,"ol":-12,"oh":10},
{"d":210,"ul":1.5,"um":4.1,"uh":5.3,"al":-72,"ah":55,"ol":-14,"oh":12},
{"d":216,"ul":1.4,"um":3.9,"uh":5.0,"al":-60,"ah":50,"ol":-13,"oh":10},
{"d":222,"ul":1.35,"um":3.7,"uh":4.7,"al":-70,"ah":55,"ol":-12,"oh":12},
{"d":228,"ul":1.3,"um":3.45,"uh":4.4,"al":-62,"ah":60,"ol":-14,"oh":10},
{"d":234,"ul":1.2,"um":3.2,"uh":4.1,"al":-75,"ah":55,"ol":-12,"oh":12},
{"d":240,"ul":1.1,"um":3.0,"uh":3.8,"al":-60,"ah":60,"ol":-13,"oh":10},
{"d":246,"ul":1.0,"um":2.75,"uh":3.5,"al":-72,"ah":65,"ol":-12,"oh":12},
{"d":252,"ul":0.9,"um":2.5,"uh":3.2,"al":-65,"ah":55,"ol":-14,"oh":14},
{"d":258,"ul":0.8,"um":2.2,"uh":2.85,"al":-75,"ah":70,"ol":-15,"oh":12},
{"d":264,"ul":0.65,"um":1.95,"uh":2.5,"al":-60,"ah":60,"ol":-14,"oh":15},
{"d":270,"ul":0.55,"um":1.65,"uh":2.2,"al":-78,"ah":75,"ol":-16,"oh":18},
{"d":276,"ul":0.45,"um":1.35,"uh":1.85,"al":-65,"ah":70,"ol":-15,"oh":15},
{"d":282,"ul":0.35,"um":1.1,"uh":1.5,"al":-80,"ah":80,"ol":-18,"oh":20},
{"d":288,"ul":0.28,"um":0.9,"uh":1.25,"al":-70,"ah":75,"ol":-16,"oh":18},
{"d":294,"ul":0.2,"um":0.7,"uh":1.0,"al":-85,"ah":90,"ol":-20,"oh":22},
{"d":300,"ul":0.15,"um":0.55,"uh":0.8,"al":-70,"ah":85,"ol":-18,"oh":20},
{"d":306,"ul":0.1,"um":0.4,"uh":0.62,"al":-80,"ah":110,"ol":-20,"oh":25},
{"d":312,"ul":0.07,"um":0.3,"uh":0.48,"al":-75,"ah":85,"ol":-18,"oh":20},
{"d":318,"ul":0.05,"um":0.22,"uh":0.36,"al":-85,"ah":115,"ol":-22,"oh":28},
{"d":324,"ul":0.04,"um":0.16,"uh":0.28,"al":-70,"ah":80,"ol":-20,"oh":22},
{"d":330,"ul":0.03,"um":0.12,"uh":0.22,"al":-80,"ah":100,"ol":-22,"oh":25},
{"d":336,"ul":0.03,"um":0.1,"uh":0.18,"al":-75,"ah":85,"ol":-20,"oh":22},
{"d":342,"ul":0.03,"um":0.09,"uh":0.16,"al":-85,"ah":120,"ol":-22,"oh":25},
{"d":348,"ul":0.02,"um":0.08,"uh":0.15,"al":-70,"ah":75,"ol":-25,"oh":22},
{"d":354,"ul":0.02,"um":0.08,"uh":0.15,"al":-80,"ah":80,"ol":-50,"oh":35},
{"d":360,"ul":0.02,"um":0.08,"uh":0.15,"al":-75,"ah":60,"ol":-30,"oh":25},
{"d":365,"ul":0.02,"um":0.08,"uh":0.14,"al":-70,"ah":55,"ol":-25,"oh":20}
],
"pd":[
{"d":1,"u":0.06,"a":-20},{"d":3,"u":0.08,"a":30},{"d":5,"u":0.1,"a":45},{"d":7,"u":0.07,"a":25},{"d":9,"u":0.06,"a":-40},{"d":11,"u":0.08,"a":10},{"d":13,"u":0.05,"a":-50},{"d":15,"u":0.07,"a":-30},{"d":17,"u":0.12,"a":35},{"d":19,"u":0.1,"a":10},{"d":21,"u":0.14,"a":15},{"d":23,"u":0.09,"a":-40},{"d":25,"u":0.12,"a":-10},{"d":27,"u":0.19,"a":35},{"d":29,"u":0.14,"a":-25},{"d":31,"u":0.2,"a":5},{"d":33,"u":0.25,"a":20},{"d":35,"u":0.2,"a":-30},{"d":37,"u":0.33,"a":75},{"d":39,"u":0.28,"a":10},{"d":41,"u":0.35,"a":20},{"d":43,"u":0.3,"a":-5},{"d":45,"u":0.4,"a":25},{"d":47,"u":0.36,"a":15},{"d":49,"u":0.45,"a":40},{"d":51,"u":0.5,"a":10},{"d":53,"u":0.55,"a":30},{"d":55,"u":0.8,"a":80},{"d":57,"u":0.6,"a":5},{"d":59,"u":0.7,"a":45},{"d":61,"u":0.55,"a":-40},{"d":63,"u":0.8,"a":20},{"d":66,"u":0.9,"a":0},{"d":69,"u":1.1,"a":15},{"d":72,"u":1.0,"a":5},{"d":75,"u":1.1,"a":-5},{"d":78,"u":1.4,"a":25},{"d":80,"u":0.8,"a":-30},{"d":82,"u":2.2,"a":55},{"d":84,"u":2.6,"a":100},{"d":86,"u":2.9,"a":90},{"d":88,"u":3.6,"a":120},{"d":90,"u":3.2,"a":70},{"d":92,"u":2.5,"a":35},{"d":94,"u":1.0,"a":-45},{"d":96,"u":2.8,"a":30},{"d":98,"u":0.9,"a":-55},{"d":100,"u":3.1,"a":25},{"d":102,"u":1.6,"a":-25},{"d":104,"u":3.3,"a":35},{"d":106,"u":3.5,"a":20},{"d":108,"u":1.9,"a":-20},{"d":110,"u":3.7,"a":30},{"d":112,"u":2.5,"a":-10},{"d":114,"u":3.5,"a":20},{"d":116,"u":1.7,"a":-35},{"d":118,"u":3.9,"a":25},{"d":120,"u":2.2,"a":-25},{"d":122,"u":4.0,"a":30},{"d":124,"u":2.6,"a":-15},{"d":126,"u":4.2,"a":20},{"d":128,"u":3.2,"a":-5},{"d":130,"u":4.3,"a":25},{"d":132,"u":2.1,"a":-40},{"d":134,"u":4.5,"a":22},{"d":136,"u":2.2,"a":-45},{"d":138,"u":4.8,"a":25},{"d":140,"u":1.6,"a":-55},{"d":142,"u":5.0,"a":28},{"d":144,"u":3.7,"a":-10},{"d":146,"u":5.1,"a":20},{"d":148,"u":4.2,"a":5},{"d":150,"u":5.4,"a":30},{"d":152,"u":5.6,"a":25},{"d":154,"u":3.5,"a":-25},{"d":156,"u":5.2,"a":20},{"d":158,"u":0.85,"a":-80},{"d":160,"u":5.5,"a":18},{"d":162,"u":2.2,"a":-52},{"d":164,"u":5.9,"a":30},{"d":166,"u":4.0,"a":-15},{"d":168,"u":5.6,"a":25},{"d":170,"u":2.5,"a":-45},{"d":172,"u":6.7,"a":50},{"d":174,"u":5.8,"a":28},{"d":176,"u":4.7,"a":5},{"d":178,"u":5.7,"a":20},{"d":180,"u":2.2,"a":-55},{"d":182,"u":5.2,"a":15},{"d":184,"u":2.5,"a":-40},{"d":186,"u":6.5,"a":45},{"d":188,"u":5.5,"a":20},{"d":190,"u":4.4,"a":0},{"d":192,"u":5.4,"a":22},{"d":194,"u":4.7,"a":8},{"d":196,"u":5.0,"a":15},{"d":198,"u":4.5,"a":2},{"d":200,"u":4.2,"a":-5},{"d":202,"u":4.6,"a":10},{"d":204,"u":3.8,"a":-8},{"d":206,"u":4.3,"a":5},{"d":208,"u":4.5,"a":8}
],
"od":[
{"d":1,"o":10},{"d":3,"o":0},{"d":5,"o":3},{"d":7,"o":-5},{"d":9,"o":-2},{"d":11,"o":5},{"d":13,"o":-8},{"d":15,"o":15},{"d":17,"o":33},{"d":18,"o":45},{"d":19,"o":20},{"d":21,"o":12},{"d":23,"o":18},{"d":25,"o":5},{"d":27,"o":-5},{"d":29,"o":20},{"d":31,"o":-10},{"d":33,"o":-15},{"d":35,"o":-5},{"d":37,"o":-12},{"d":39,"o":0},{"d":41,"o":8},{"d":43,"o":15},{"d":45,"o":10},{"d":47,"o":5},{"d":49,"o":3},{"d":51,"o":8},{"d":53,"o":-5},{"d":55,"o":0},{"d":57,"o":12},{"d":59,"o":8},{"d":61,"o":-10},{"d":63,"o":5},{"d":65,"o":-15},{"d":67,"o":-22},{"d":69,"o":0},{"d":71,"o":10},{"d":73,"o":15},{"d":75,"o":-5},{"d":77,"o":5},{"d":79,"o":10},{"d":81,"o":-8},{"d":83,"o":3},{"d":85,"o":-15},{"d":87,"o":-25},{"d":88,"o":-30},{"d":89,"o":-33},{"d":90,"o":-28},{"d":91,"o":-31},{"d":93,"o":-20},{"d":95,"o":-5},{"d":97,"o":10},{"d":99,"o":-3},{"d":101,"o":-8},{"d":103,"o":-12},{"d":105,"o":-5},{"d":107,"o":-10},{"d":109,"o":2},{"d":111,"o":-8},{"d":113,"o":-3},{"d":115,"o":5},{"d":117,"o":-5},{"d":119,"o":10},{"d":121,"o":0},{"d":123,"o":15},{"d":125,"o":20},{"d":127,"o":8},{"d":129,"o":5},{"d":131,"o":10},{"d":133,"o":-2},{"d":135,"o":-5},{"d":137,"o":5},{"d":139,"o":-8},{"d":141,"o":0},{"d":143,"o":-5},{"d":145,"o":-10},{"d":147,"o":-3},{"d":149,"o":2},{"d":151,"o":-8},{"d":153,"o":-5},{"d":155,"o":-2},{"d":157,"o":-10},{"d":159,"o":-6},{"d":161,"o":-3},{"d":163,"o":-8},{"d":165,"o":-2},{"d":167,"o":-5},{"d":169,"o":0},{"d":171,"o":3},{"d":173,"o":5},{"d":175,"o":8},{"d":177,"o":2},{"d":179,"o":5},{"d":181,"o":-12},{"d":183,"o":-8},{"d":185,"o":-5},{"d":187,"o":-10},{"d":189,"o":-3},{"d":191,"o":-7},{"d":193,"o":-10},{"d":195,"o":-6},{"d":197,"o":2},{"d":199,"o":-8},{"d":201,"o":-5},{"d":203,"o":-3}
]
},
"hconcat":[
{"title":{"text":"(a)","anchor":"start","fontSize":21,"offset":-19},"spacing":2,"bounds":"flush","vconcat":[
{"width":235,"height":179,"title":{"text":"Eureka, Canada (80°N, 86°W)","fontSize":17,"offset":9,"frame":"group","anchor":"middle"},
"resolve":{"axis":{"x":"independent","y":"independent"}},
"layer":[
{"data":{"name":"ra"},"mark":{"type":"area","color":"#c8c8cc"},"encoding":{"x":{"field":"d","type":"quantitative","scale":{"domain":[-8,371],"nice":false,"zero":false},"axis":{"orient":"bottom","values":[0,31,59,90,120,151,181,212,243,273,304,334,365],"labels":false,"title":null,"maxExtent":0}},"y":{"field":"ul","type":"quantitative","scale":{"domain":[-0.05,7.25],"nice":false,"zero":false},"axis":{"orient":"left","values":[0,1,2,3,4,5,6,7],"title":"UV Index"}},"y2":{"field":"uh"}}},
{"data":{"name":"pa"},"mark":{"type":"square","color":"#ff0000","size":6,"opacity":1},"encoding":{"x":{"field":"d","type":"quantitative","axis":{"orient":"top","values":[0,31,59,90,120,151,181,212,243,273,304,334,365],"labels":false,"title":null,"maxExtent":0}},"y":{"field":"u","type":"quantitative","axis":{"orient":"right","values":[0,1,2,3,4,5,6,7],"labels":false,"title":null,"maxExtent":0}}}},
{"data":{"name":"ra"},"mark":{"type":"line","color":"#0000ff","strokeWidth":1.6},"encoding":{"x":{"field":"d","type":"quantitative","axis":null},"y":{"field":"um","type":"quantitative","axis":null}}},
{"data":{"values":[{}]},"mark":{"type":"text","align":"left","baseline":"alphabetic","fontSize":14,"lineHeight":15},"encoding":{"x":{"datum":289,"axis":null},"y":{"datum":6.2,"axis":null},"text":{"value":["2001 -","2009"]}}},
{"data":{"values":[{"k":"Average"},{"k":"2011"},{"k":"Min/Max Range"}]},"mark":{"type":"point","filled":true,"opacity":0},
"encoding":{
"fill":{"field":"k","type":"nominal","scale":{"domain":["Average","2011","Min/Max Range"],"range":["#0000ff","#ff0000","#c8c8cc"]},"legend":{"orient":"none","legendX":31,"legendY":16,"title":null,"labelFontSize":14,"strokeColor":"#000","fillColor":"#fff","padding":7,"rowPadding":2,"labelOffset":2,"symbolOpacity":1}},
"stroke":{"field":"k","type":"nominal","scale":{"domain":["Average","2011","Min/Max Range"],"range":["#0000ff","#ff0000","#333333"]},"legend":{"orient":"none","legendX":31,"legendY":16,"title":null,"labelFontSize":14,"strokeColor":"#000","fillColor":"#fff","padding":7,"rowPadding":2,"labelOffset":2,"symbolOpacity":1}},
"shape":{"field":"k","type":"nominal","scale":{"domain":["Average","2011","Min/Max Range"],"range":["stroke","circle","square"]},"legend":{"orient":"none","legendX":31,"legendY":16,"title":null,"labelFontSize":14,"strokeColor":"#000","fillColor":"#fff","padding":7,"rowPadding":2,"labelOffset":2,"symbolOpacity":1}},
"size":{"field":"k","type":"nominal","scale":{"type":"ordinal","domain":["Average","2011","Min/Max Range"],"range":[841,12,180]},"legend":{"orient":"none","legendX":31,"legendY":16,"title":null,"labelFontSize":14,"strokeColor":"#000","fillColor":"#fff","padding":7,"rowPadding":2,"labelOffset":2,"symbolOpacity":1}},
"strokeWidth":{"field":"k","type":"nominal","scale":{"type":"ordinal","domain":["Average","2011","Min/Max Range"],"range":[2,0.5,1.5]},"legend":{"orient":"none","legendX":31,"legendY":16,"title":null,"labelFontSize":14,"strokeColor":"#000","fillColor":"#fff","padding":7,"rowPadding":2,"labelOffset":2,"symbolOpacity":1}}
}}
]},
{"width":235,"height":119,"resolve":{"axis":{"x":"independent","y":"independent"}},
"layer":[
{"data":{"name":"ra"},"mark":{"type":"area","color":"#c8c8cc"},"encoding":{"x":{"field":"d","type":"quantitative","scale":{"domain":[-8,371],"nice":false,"zero":false},"axis":{"orient":"bottom","values":[0,31,59,90,120,151,181,212,243,273,304,334,365],"labels":false,"title":null,"maxExtent":0}},"y":{"field":"al","type":"quantitative","scale":{"domain":[-130,182],"nice":false,"zero":false},"axis":{"orient":"left","values":[-100,-50,0,50,100,150],"title":"UV Anomaly [%]"}},"y2":{"field":"ah"}}},
{"data":{"name":"pa"},"mark":{"type":"square","color":"#ff0000","size":6,"opacity":1},"encoding":{"x":{"field":"d","type":"quantitative","axis":{"orient":"top","values":[0,31,59,90,120,151,181,212,243,273,304,334,365],"labels":false,"title":null,"maxExtent":0}},"y":{"field":"a","type":"quantitative","axis":{"orient":"right","values":[-100,-50,0,50,100,150],"labels":false,"title":null,"maxExtent":0}}}},
{"data":{"name":"ra"},"transform":[{"filter":"isValid(datum.al)"}],"mark":{"type":"line","color":"#0000ff","strokeWidth":2},"encoding":{"x":{"field":"d","type":"quantitative","axis":null},"y":{"datum":0,"axis":null}}},
{"data":{"values":[{}]},"mark":{"type":"text","align":"left","baseline":"alphabetic","fontSize":14},"encoding":{"x":{"datum":294,"axis":null},"y":{"datum":122,"axis":null},"text":{"value":"+76%"}}}
]},
{"width":235,"height":119,"resolve":{"axis":{"x":"independent","y":"independent"}},
"layer":[
{"data":{"name":"ra"},"mark":{"type":"area","color":"#c8c8cc"},"encoding":{"x":{"field":"d","type":"quantitative","scale":{"domain":[-8,371],"nice":false,"zero":false},"axis":{"orient":"bottom","values":[0,31,59,90,120,151,181,212,243,273,304,334,365],"labelExpr":"['J','F','M','A','M','J','J','A','S','O','N','D','J'][indexof([0,31,59,90,120,151,181,212,243,273,304,334,365],datum.value)]","title":"Month"}},"y":{"field":"ol","type":"quantitative","scale":{"domain":[-90,89],"nice":false,"zero":false},"axis":{"orient":"left","values":[-75,-50,-25,0,25,50,75],"title":"O₃ Anomaly [%]"}},"y2":{"field":"oh"}}},
{"data":{"name":"oa"},"mark":{"type":"square","color":"#ff0000","size":6,"opacity":1},"encoding":{"x":{"field":"d","type":"quantitative","axis":{"orient":"top","values":[0,31,59,90,120,151,181,212,243,273,304,334,365],"labels":false,"title":null,"maxExtent":0}},"y":{"field":"o","type":"quantitative","axis":{"orient":"right","values":[-75,-50,-25,0,25,50,75],"labels":false,"title":null,"maxExtent":0}}}},
{"data":{"name":"ra"},"transform":[{"filter":"isValid(datum.ol)"}],"mark":{"type":"line","color":"#0000ff","strokeWidth":2},"encoding":{"x":{"field":"d","type":"quantitative","axis":null},"y":{"datum":0,"axis":null}}},
{"data":{"values":[{}]},"mark":{"type":"text","align":"left","baseline":"alphabetic","fontSize":14},"encoding":{"x":{"datum":294,"axis":null},"y":{"datum":55,"axis":null},"text":{"value":"-40%"}}}
]}
]},
{"title":{"text":"(b)","anchor":"start","fontSize":21,"offset":-19},"spacing":2,"bounds":"flush","vconcat":[
{"width":235,"height":179,"title":{"text":"Summit, Greenland (72°N, 38°W)","fontSize":17,"offset":9,"frame":"group","anchor":"middle"},
"resolve":{"axis":{"x":"independent","y":"independent"}},
"layer":[
{"data":{"name":"rb"},"mark":{"type":"area","color":"#c8c8cc"},"encoding":{"x":{"field":"d","type":"quantitative","scale":{"domain":[-8,371],"nice":false,"zero":false},"axis":{"orient":"bottom","values":[0,31,59,90,120,151,181,212,243,273,304,334,365],"labels":false,"title":null,"maxExtent":0}},"y":{"field":"ul","type":"quantitative","scale":{"domain":[-0.05,7.25],"nice":false,"zero":false},"axis":{"orient":"left","values":[0,1,2,3,4,5,6,7],"title":"UV Index"}},"y2":{"field":"uh"}}},
{"data":{"name":"pb"},"mark":{"type":"square","color":"#ff0000","size":6,"opacity":1},"encoding":{"x":{"field":"d","type":"quantitative","axis":{"orient":"top","values":[0,31,59,90,120,151,181,212,243,273,304,334,365],"labels":false,"title":null,"maxExtent":0}},"y":{"field":"u","type":"quantitative","axis":{"orient":"right","values":[0,1,2,3,4,5,6,7],"labels":false,"title":null,"maxExtent":0}}}},
{"data":{"name":"rb"},"mark":{"type":"line","color":"#0000ff","strokeWidth":1.6},"encoding":{"x":{"field":"d","type":"quantitative","axis":null},"y":{"field":"um","type":"quantitative","axis":null}}},
{"data":{"values":[{}]},"mark":{"type":"text","align":"left","baseline":"alphabetic","fontSize":14,"lineHeight":15},"encoding":{"x":{"datum":289,"axis":null},"y":{"datum":6.2,"axis":null},"text":{"value":["2004 -","2009"]}}}
]},
{"width":235,"height":119,"resolve":{"axis":{"x":"independent","y":"independent"}},
"layer":[
{"data":{"name":"rb"},"mark":{"type":"area","color":"#c8c8cc"},"encoding":{"x":{"field":"d","type":"quantitative","scale":{"domain":[-8,371],"nice":false,"zero":false},"axis":{"orient":"bottom","values":[0,31,59,90,120,151,181,212,243,273,304,334,365],"labels":false,"title":null,"maxExtent":0}},"y":{"field":"al","type":"quantitative","scale":{"domain":[-130,182],"nice":false,"zero":false},"axis":{"orient":"left","values":[-100,-50,0,50,100,150],"title":"UV Anomaly [%]"}},"y2":{"field":"ah"}}},
{"data":{"name":"pb"},"mark":{"type":"square","color":"#ff0000","size":6,"opacity":1},"encoding":{"x":{"field":"d","type":"quantitative","axis":{"orient":"top","values":[0,31,59,90,120,151,181,212,243,273,304,334,365],"labels":false,"title":null,"maxExtent":0}},"y":{"field":"a","type":"quantitative","axis":{"orient":"right","values":[-100,-50,0,50,100,150],"labels":false,"title":null,"maxExtent":0}}}},
{"data":{"name":"rb"},"transform":[{"filter":"isValid(datum.al)"}],"mark":{"type":"line","color":"#0000ff","strokeWidth":2},"encoding":{"x":{"field":"d","type":"quantitative","axis":null},"y":{"datum":0,"axis":null}}},
{"data":{"values":[{}]},"mark":{"type":"text","align":"left","baseline":"alphabetic","fontSize":14},"encoding":{"x":{"datum":294,"axis":null},"y":{"datum":122,"axis":null},"text":{"value":"+48%"}}}
]},
{"width":235,"height":119,"resolve":{"axis":{"x":"independent","y":"independent"}},
"layer":[
{"data":{"name":"rb"},"mark":{"type":"area","color":"#c8c8cc"},"encoding":{"x":{"field":"d","type":"quantitative","scale":{"domain":[-8,371],"nice":false,"zero":false},"axis":{"orient":"bottom","values":[0,31,59,90,120,151,181,212,243,273,304,334,365],"labelExpr":"['J','F','M','A','M','J','J','A','S','O','N','D','J'][indexof([0,31,59,90,120,151,181,212,243,273,304,334,365],datum.value)]","title":"Month"}},"y":{"field":"ol","type":"quantitative","scale":{"domain":[-90,89],"nice":false,"zero":false},"axis":{"orient":"left","values":[-75,-50,-25,0,25,50,75],"title":"O₃ Anomaly [%]"}},"y2":{"field":"oh"}}},
{"data":{"name":"ob"},"mark":{"type":"square","color":"#ff0000","size":6,"opacity":1},"encoding":{"x":{"field":"d","type":"quantitative","axis":{"orient":"top","values":[0,31,59,90,120,151,181,212,243,273,304,334,365],"labels":false,"title":null,"maxExtent":0}},"y":{"field":"o","type":"quantitative","axis":{"orient":"right","values":[-75,-50,-25,0,25,50,75],"labels":false,"title":null,"maxExtent":0}}}},
{"data":{"name":"rb"},"transform":[{"filter":"isValid(datum.ol)"}],"mark":{"type":"line","color":"#0000ff","strokeWidth":2},"encoding":{"x":{"field":"d","type":"quantitative","axis":null},"y":{"datum":0,"axis":null}}},
{"data":{"values":[{}]},"mark":{"type":"text","align":"left","baseline":"alphabetic","fontSize":14},"encoding":{"x":{"datum":294,"axis":null},"y":{"datum":55,"axis":null},"text":{"value":"-37%"}}}
]}
]},
{"title":{"text":"(c)","anchor":"start","fontSize":21,"offset":-19},"spacing":2,"bounds":"flush","vconcat":[
{"width":235,"height":179,"title":{"text":"Andoya, Norway (69°N, 16°E)","fontSize":17,"offset":9,"frame":"group","anchor":"middle"},
"resolve":{"axis":{"x":"independent","y":"independent"}},
"layer":[
{"data":{"name":"rc"},"mark":{"type":"area","color":"#c8c8cc"},"encoding":{"x":{"field":"d","type":"quantitative","scale":{"domain":[-8,371],"nice":false,"zero":false},"axis":{"orient":"bottom","values":[0,31,59,90,120,151,181,212,243,273,304,334,365],"labels":false,"title":null,"maxExtent":0}},"y":{"field":"ul","type":"quantitative","scale":{"domain":[-0.05,7.25],"nice":false,"zero":false},"axis":{"orient":"left","values":[0,1,2,3,4,5,6,7],"title":"UV Index"}},"y2":{"field":"uh"}}},
{"data":{"name":"pc"},"mark":{"type":"square","color":"#ff0000","size":6,"opacity":1},"encoding":{"x":{"field":"d","type":"quantitative","axis":{"orient":"top","values":[0,31,59,90,120,151,181,212,243,273,304,334,365],"labels":false,"title":null,"maxExtent":0}},"y":{"field":"u","type":"quantitative","axis":{"orient":"right","values":[0,1,2,3,4,5,6,7],"labels":false,"title":null,"maxExtent":0}}}},
{"data":{"name":"rc"},"mark":{"type":"line","color":"#0000ff","strokeWidth":1.6},"encoding":{"x":{"field":"d","type":"quantitative","axis":null},"y":{"field":"um","type":"quantitative","axis":null}}},
{"data":{"values":[{}]},"mark":{"type":"text","align":"left","baseline":"alphabetic","fontSize":14,"lineHeight":15},"encoding":{"x":{"datum":289,"axis":null},"y":{"datum":6.2,"axis":null},"text":{"value":["2000 -","2009"]}}}
]},
{"width":235,"height":119,"resolve":{"axis":{"x":"independent","y":"independent"}},
"layer":[
{"data":{"name":"rc"},"mark":{"type":"area","color":"#c8c8cc"},"encoding":{"x":{"field":"d","type":"quantitative","scale":{"domain":[-8,371],"nice":false,"zero":false},"axis":{"orient":"bottom","values":[0,31,59,90,120,151,181,212,243,273,304,334,365],"labels":false,"title":null,"maxExtent":0}},"y":{"field":"al","type":"quantitative","scale":{"domain":[-130,182],"nice":false,"zero":false},"axis":{"orient":"left","values":[-100,-50,0,50,100,150],"title":"UV Anomaly [%]"}},"y2":{"field":"ah"}}},
{"data":{"name":"pc"},"mark":{"type":"square","color":"#ff0000","size":6,"opacity":1},"encoding":{"x":{"field":"d","type":"quantitative","axis":{"orient":"top","values":[0,31,59,90,120,151,181,212,243,273,304,334,365],"labels":false,"title":null,"maxExtent":0}},"y":{"field":"a","type":"quantitative","axis":{"orient":"right","values":[-100,-50,0,50,100,150],"labels":false,"title":null,"maxExtent":0}}}},
{"data":{"name":"rc"},"transform":[{"filter":"isValid(datum.al)"}],"mark":{"type":"line","color":"#0000ff","strokeWidth":2},"encoding":{"x":{"field":"d","type":"quantitative","axis":null},"y":{"datum":0,"axis":null}}},
{"data":{"values":[{}]},"mark":{"type":"text","align":"left","baseline":"alphabetic","fontSize":14},"encoding":{"x":{"datum":294,"axis":null},"y":{"datum":122,"axis":null},"text":{"value":"+122%"}}}
]},
{"width":235,"height":119,"resolve":{"axis":{"x":"independent","y":"independent"}},
"layer":[
{"data":{"name":"rc"},"mark":{"type":"area","color":"#c8c8cc"},"encoding":{"x":{"field":"d","type":"quantitative","scale":{"domain":[-8,371],"nice":false,"zero":false},"axis":{"orient":"bottom","values":[0,31,59,90,120,151,181,212,243,273,304,334,365],"labelExpr":"['J','F','M','A','M','J','J','A','S','O','N','D','J'][indexof([0,31,59,90,120,151,181,212,243,273,304,334,365],datum.value)]","title":"Month"}},"y":{"field":"ol","type":"quantitative","scale":{"domain":[-90,89],"nice":false,"zero":false},"axis":{"orient":"left","values":[-75,-50,-25,0,25,50,75],"title":"O₃ Anomaly [%]"}},"y2":{"field":"oh"}}},
{"data":{"name":"oc"},"mark":{"type":"square","color":"#ff0000","size":6,"opacity":1},"encoding":{"x":{"field":"d","type":"quantitative","axis":{"orient":"top","values":[0,31,59,90,120,151,181,212,243,273,304,334,365],"labels":false,"title":null,"maxExtent":0}},"y":{"field":"o","type":"quantitative","axis":{"orient":"right","values":[-75,-50,-25,0,25,50,75],"labels":false,"title":null,"maxExtent":0}}}},
{"data":{"name":"rc"},"transform":[{"filter":"isValid(datum.ol)"}],"mark":{"type":"line","color":"#0000ff","strokeWidth":2},"encoding":{"x":{"field":"d","type":"quantitative","axis":null},"y":{"datum":0,"axis":null}}},
{"data":{"values":[{}]},"mark":{"type":"text","align":"left","baseline":"alphabetic","fontSize":14},"encoding":{"x":{"datum":294,"axis":null},"y":{"datum":55,"axis":null},"text":{"value":"-38%"}}}
]}
]},
{"title":{"text":"(d)","anchor":"start","fontSize":21,"offset":-19},"spacing":2,"bounds":"flush","vconcat":[
{"width":235,"height":179,"title":{"text":"Jokioinen, Finland (61°N, 23°E)","fontSize":17,"offset":9,"frame":"group","anchor":"middle"},
"resolve":{"axis":{"x":"independent","y":"independent"}},
"layer":[
{"data":{"name":"rd"},"mark":{"type":"area","color":"#c8c8cc"},"encoding":{"x":{"field":"d","type":"quantitative","scale":{"domain":[-8,371],"nice":false,"zero":false},"axis":{"orient":"bottom","values":[0,31,59,90,120,151,181,212,243,273,304,334,365],"labels":false,"title":null,"maxExtent":0}},"y":{"field":"ul","type":"quantitative","scale":{"domain":[-0.05,7.25],"nice":false,"zero":false},"axis":{"orient":"left","values":[0,1,2,3,4,5,6,7],"title":"UV Index"}},"y2":{"field":"uh"}}},
{"data":{"name":"pd"},"mark":{"type":"square","color":"#ff0000","size":6,"opacity":1},"encoding":{"x":{"field":"d","type":"quantitative","axis":{"orient":"top","values":[0,31,59,90,120,151,181,212,243,273,304,334,365],"labels":false,"title":null,"maxExtent":0}},"y":{"field":"u","type":"quantitative","axis":{"orient":"right","values":[0,1,2,3,4,5,6,7],"labels":false,"title":null,"maxExtent":0}}}},
{"data":{"name":"rd"},"mark":{"type":"line","color":"#0000ff","strokeWidth":1.6},"encoding":{"x":{"field":"d","type":"quantitative","axis":null},"y":{"field":"um","type":"quantitative","axis":null}}},
{"data":{"values":[{}]},"mark":{"type":"text","align":"left","baseline":"alphabetic","fontSize":14,"lineHeight":15},"encoding":{"x":{"datum":289,"axis":null},"y":{"datum":6.2,"axis":null},"text":{"value":["1995 -","2009"]}}}
]},
{"width":235,"height":119,"resolve":{"axis":{"x":"independent","y":"independent"}},
"layer":[
{"data":{"name":"rd"},"mark":{"type":"area","color":"#c8c8cc"},"encoding":{"x":{"field":"d","type":"quantitative","scale":{"domain":[-8,371],"nice":false,"zero":false},"axis":{"orient":"bottom","values":[0,31,59,90,120,151,181,212,243,273,304,334,365],"labels":false,"title":null,"maxExtent":0}},"y":{"field":"al","type":"quantitative","scale":{"domain":[-130,182],"nice":false,"zero":false},"axis":{"orient":"left","values":[-100,-50,0,50,100,150],"title":"UV Anomaly [%]"}},"y2":{"field":"ah"}}},
{"data":{"name":"pd"},"mark":{"type":"square","color":"#ff0000","size":6,"opacity":1},"encoding":{"x":{"field":"d","type":"quantitative","axis":{"orient":"top","values":[0,31,59,90,120,151,181,212,243,273,304,334,365],"labels":false,"title":null,"maxExtent":0}},"y":{"field":"a","type":"quantitative","axis":{"orient":"right","values":[-100,-50,0,50,100,150],"labels":false,"title":null,"maxExtent":0}}}},
{"data":{"name":"rd"},"transform":[{"filter":"isValid(datum.al)"}],"mark":{"type":"line","color":"#0000ff","strokeWidth":2},"encoding":{"x":{"field":"d","type":"quantitative","axis":null},"y":{"datum":0,"axis":null}}},
{"data":{"values":[{}]},"mark":{"type":"text","align":"left","baseline":"alphabetic","fontSize":14},"encoding":{"x":{"datum":294,"axis":null},"y":{"datum":122,"axis":null},"text":{"value":"+120%"}}}
]},
{"width":235,"height":119,"resolve":{"axis":{"x":"independent","y":"independent"}},
"layer":[
{"data":{"name":"rd"},"mark":{"type":"area","color":"#c8c8cc"},"encoding":{"x":{"field":"d","type":"quantitative","scale":{"domain":[-8,371],"nice":false,"zero":false},"axis":{"orient":"bottom","values":[0,31,59,90,120,151,181,212,243,273,304,334,365],"labelExpr":"['J','F','M','A','M','J','J','A','S','O','N','D','J'][indexof([0,31,59,90,120,151,181,212,243,273,304,334,365],datum.value)]","title":"Month"}},"y":{"field":"ol","type":"quantitative","scale":{"domain":[-90,89],"nice":false,"zero":false},"axis":{"orient":"left","values":[-75,-50,-25,0,25,50,75],"title":"O₃ Anomaly [%]"}},"y2":{"field":"oh"}}},
{"data":{"name":"od"},"mark":{"type":"square","color":"#ff0000","size":6,"opacity":1},"encoding":{"x":{"field":"d","type":"quantitative","axis":{"orient":"top","values":[0,31,59,90,120,151,181,212,243,273,304,334,365],"labels":false,"title":null,"maxExtent":0}},"y":{"field":"o","type":"quantitative","axis":{"orient":"right","values":[-75,-50,-25,0,25,50,75],"labels":false,"title":null,"maxExtent":0}}}},
{"data":{"name":"rd"},"transform":[{"filter":"isValid(datum.ol)"}],"mark":{"type":"line","color":"#0000ff","strokeWidth":2},"encoding":{"x":{"field":"d","type":"quantitative","axis":null},"y":{"datum":0,"axis":null}}},
{"data":{"values":[{}]},"mark":{"type":"text","align":"left","baseline":"alphabetic","fontSize":14},"encoding":{"x":{"datum":294,"axis":null},"y":{"datum":55,"axis":null},"text":{"value":"-35%"}}}
]}
]}
],
"spacing":17,
"config":{
"font":"Liberation Sans",
"view":{"stroke":"#1a1a1a","strokeWidth":1.8},
"axis":{"grid":false,"domain":false,"tickColor":"#000","tickSize":-5,"tickWidth":1,"labelColor":"#000","labelFontSize":12,"titleColor":"#000","titleFontSize":14,"titleFontWeight":"normal","labelFlush":false,"labelOverlap":false},
"axisX":{"labelPadding":13,"labelFontSize":13,"titleFontSize":16,"titlePadding":0,"labelAngle":0},
"axisY":{"labelPadding":11.5,"titlePadding":2},
"title":{"fontWeight":"normal","color":"#000"},
"text":{"color":"#000"}
}
}
